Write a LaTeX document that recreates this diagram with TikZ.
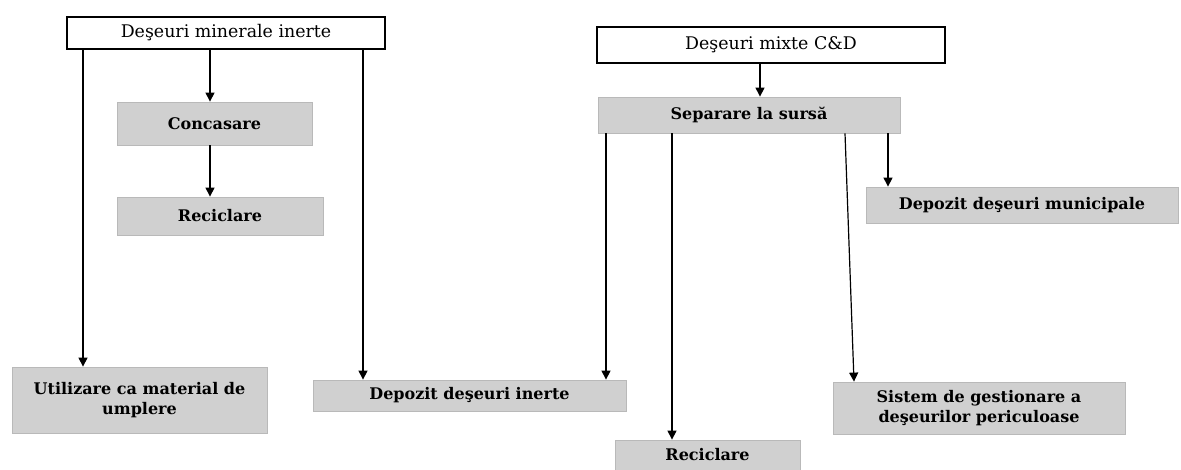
\documentclass[tikz,border=0pt]{standalone}
\usepackage{fontspec}
\setmainfont{DejaVu Serif}
\usetikzlibrary{arrows.meta,positioning}

\begin{document}
\begin{tikzpicture}[x=0.5pt, y=-0.5pt,
  src/.style={draw, line width=1pt, fill=white, align=center, inner sep=0pt, font=\fontsize{8.7}{10}\selectfont},
  box/.style={draw=gray!55, fill=gray!37, align=center, inner sep=0pt, font=\fontsize{8}{10}\selectfont\bfseries},
  flow/.style={-{Triangle[length=4.5pt, width=4.5pt]}, line width=0.6pt}]
\useasboundingbox (0,0) rectangle (1181,470);
% columns of the connectors
\foreach \n/\x in {cA/83, cB/210, cC/363, cD/606, cE/672, cF/845, cFb/854, cG/888, cH/760}
  \coordinate (\n) at (\x,0);
% left branch
\node[src, minimum width=159pt, minimum height=16pt] (min) at (226,33) {Deşeuri minerale inerte};
\node[box, minimum width=97.5pt, minimum height=21.5pt] (conc) at (214.5,123.5) {Concasare};
\node[box, minimum width=103pt, minimum height=19pt] (rec1) at (220,216) {Reciclare};
\node[box, minimum width=127.5pt, minimum height=33pt] (util) at (139.5,400) {Utilizare ca material de\\umplere};
\node[box, minimum width=156.5pt, minimum height=15.5pt] (dinert) at (469.5,395.5) {Depozit deşeuri inerte};
% right branch
\node[src, minimum width=174pt, minimum height=18pt] (mixte) at (771,45) {Deşeuri mixte C\&D};
\node[box, minimum width=151pt, minimum height=18pt] (sep) at (749,115) {Separare la sursă};
\node[box, minimum width=156pt, minimum height=18pt] (dmun) at (1022,205) {Depozit deşeuri municipale};
\node[box, minimum width=92.5pt, minimum height=15pt] (rec2) at (707.5,455) {Reciclare};
\node[box, minimum width=146pt, minimum height=26pt] (sist) at (979,408) {Sistem de gestionare a\\deşeurilor periculoase};
\draw[flow] (min.south -| cB) -- (conc.north -| cB);
\draw[flow] (conc.south -| cB) -- (rec1.north -| cB);
\draw[flow] (min.south -| cA) -- (util.north -| cA);
\draw[flow] (min.south -| cC) -- (dinert.north -| cC);
\draw[flow] (mixte.south -| cH) -- (sep.north -| cH);
\draw[flow] (sep.south -| cD) -- (dinert.north -| cD);
\draw[flow] (sep.south -| cE) -- (rec2.north -| cE);
\draw[flow] (sep.south -| cF) -- (sist.north -| cFb);
\draw[flow] (sep.south -| cG) -- (dmun.north -| cG);
\end{tikzpicture}
\end{document}
